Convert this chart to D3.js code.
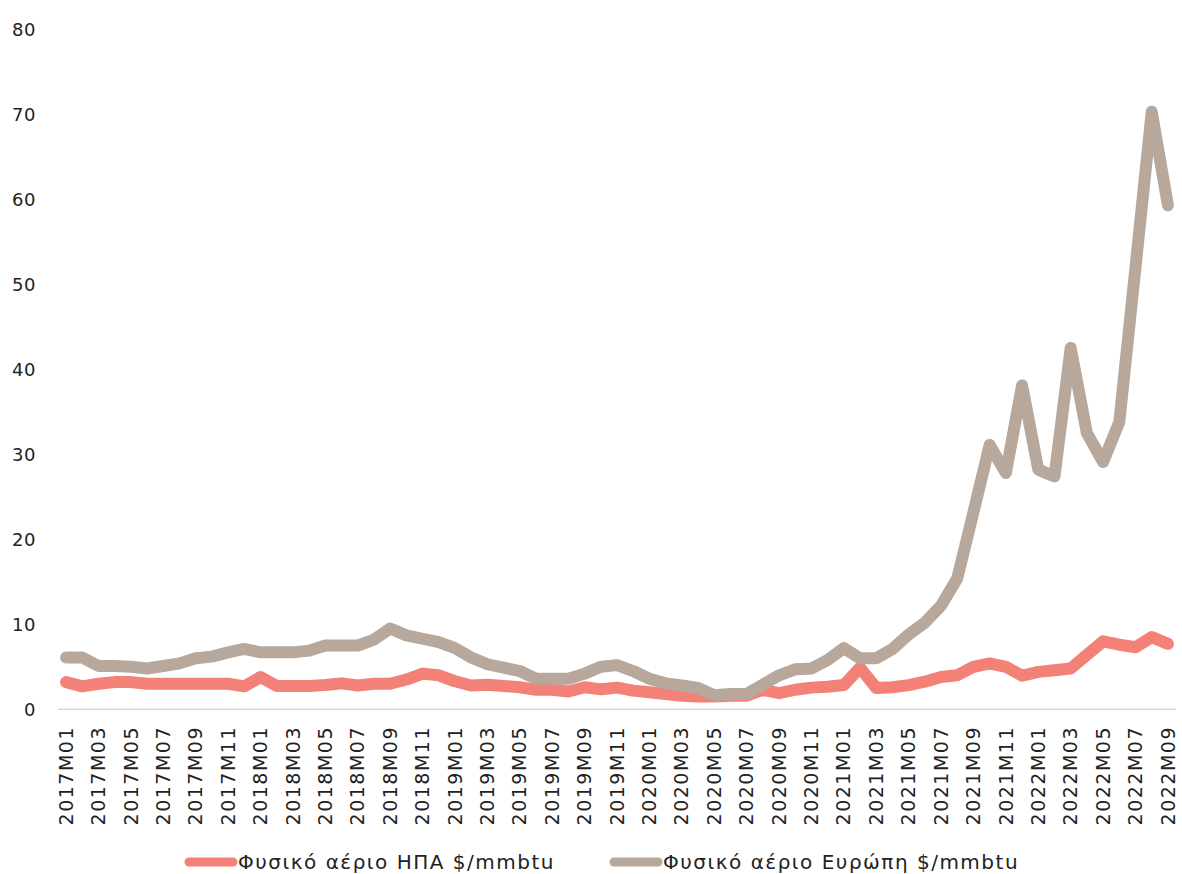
<!DOCTYPE html>
<html lang="el">
<head>
    <meta charset="UTF-8">
    <title>Φυσικό αέριο</title>
    <script src="https://d3js.org/d3.v7.min.js"></script>
    <style>
        body { margin: 0; background: #fff; }
        svg text { font-family: "DejaVu Sans", sans-serif; fill: #222; }
    </style>
</head>
<body>
    <svg width="1182" height="874"></svg>
    <script>
        // months 2017M01 .. 2022M09
        const months = [];
        for (let y = 2017; y <= 2022; y++) {
            for (let m = 1; m <= 12; m++) {
                if (y === 2022 && m > 9) break;
                months.push(y + 'M' + String(m).padStart(2, '0'));
            }
        }

        const seriesNames = ['Φυσικό αέριο ΗΠΑ $/mmbtu', 'Φυσικό αέριο Ευρώπη $/mmbtu'];

        const usGas = [3.2, 2.7, 3.0, 3.2, 3.2, 3.0, 3.0, 3.0, 3.0, 3.0, 3.0, 2.7,
            3.8, 2.75, 2.75, 2.75, 2.85, 3.05, 2.8, 3.0, 3.0, 3.5, 4.2, 4.0,
            3.3, 2.8, 2.9, 2.75, 2.6, 2.3, 2.3, 2.1, 2.6, 2.35, 2.55, 2.2,
            2.0, 1.8, 1.6, 1.5, 1.5, 1.6, 1.6, 2.3, 1.9, 2.3, 2.55, 2.65,
            2.85, 4.9, 2.5, 2.6, 2.85, 3.25, 3.8, 4.0, 5.0, 5.4, 5.0, 3.95,
            4.4, 4.6, 4.8, 6.4, 8.0, 7.6, 7.3, 8.5, 7.7];

        const euGas = [6.1, 6.1, 5.1, 5.1, 5.0, 4.8, 5.1, 5.4, 6.0, 6.2, 6.7, 7.1,
            6.7, 6.7, 6.7, 6.9, 7.5, 7.5, 7.5, 8.2, 9.5, 8.7, 8.3, 7.9,
            7.2, 6.1, 5.3, 4.9, 4.5, 3.6, 3.6, 3.6, 4.2, 5.0, 5.2, 4.5,
            3.6, 3.05, 2.8, 2.5, 1.65, 1.8, 1.8, 2.9, 4.0, 4.7, 4.8, 5.8,
            7.2, 6.0, 6.0, 7.1, 8.8, 10.2, 12.2, 15.4, 23.2, 31.1, 27.8, 38.1,
            28.2, 27.4, 42.5, 32.5, 29.1, 33.8, 52.0, 70.3, 59.3];

        const yTicks = [0, 10, 20, 30, 40, 50, 60, 70, 80];
        const colors = ['#f38177', '#b7a89b'];

        const svg = d3.select('svg');

        const xScale = d3.scaleBand()
                        .domain(months)
                        .range([58, 1176])
                        .padding(0);
        const yScale = d3.scaleLinear()
                        .domain([0, 80])
                        .range([709.3, 29.3]);

        // baseline
        svg.append('line')
            .attr('x1', 58).attr('x2', 1176)
            .attr('y1', yScale(0)).attr('y2', yScale(0))
            .attr('stroke', '#d9d9d9')
            .attr('stroke-width', 1.5);

        const line = d3.line()
                        .x((d, i) => xScale(months[i]) + xScale.bandwidth() / 2)
                        .y(d => yScale(d));

        [usGas, euGas].forEach((data, k) => {
            svg.append('path')
                .attr('d', line(data))
                .attr('fill', 'none')
                .attr('stroke', colors[k])
                .attr('stroke-width', 12)
                .attr('stroke-linejoin', 'round')
                .attr('stroke-linecap', 'round');
        });

        const yAxis = d3.axisLeft(yScale).tickValues(yTicks).tickSize(0).tickPadding(2);
        svg.append('g')
            .attr('transform', 'translate(38, 0)')
            .call(yAxis)
            .call(g => g.select('.domain').remove())
            .selectAll('text')
            .style('font-size', '18px')
            .style('letter-spacing', '0.5px')
            .attr('fill', '#222');

        const xAxis = d3.axisBottom(xScale)
                        .tickValues(months.filter((d, i) => i % 2 === 0))
                        .tickSize(0);
        svg.append('g')
            .attr('transform', 'translate(0, 717)')
            .call(xAxis)
            .call(g => g.select('.domain').remove())
            .selectAll('text')
            .style('font-size', '19px')
            .style('letter-spacing', '1.5px')
            .attr('fill', '#222')
            .attr('transform', 'rotate(-90)')
            .attr('text-anchor', 'end')
            .attr('x', -9)
            .attr('y', 0)
            .attr('dy', '0.35em');

        // legend
        const legendX = [185, 610];
        seriesNames.forEach((name, k) => {
            const g = svg.append('g').attr('transform', `translate(${legendX[k]}, 862)`);
            g.append('line')
                .attr('x1', 4).attr('x2', 48)
                .attr('stroke', colors[k])
                .attr('stroke-width', 9)
                .attr('stroke-linecap', 'round');
            g.append('text')
                .attr('x', 53)
                .attr('dy', '0.35em')
                .style('font-size', '20px')
                .style('letter-spacing', '1.5px')
                .text(name);
        });
    </script>
</body>
</html>
